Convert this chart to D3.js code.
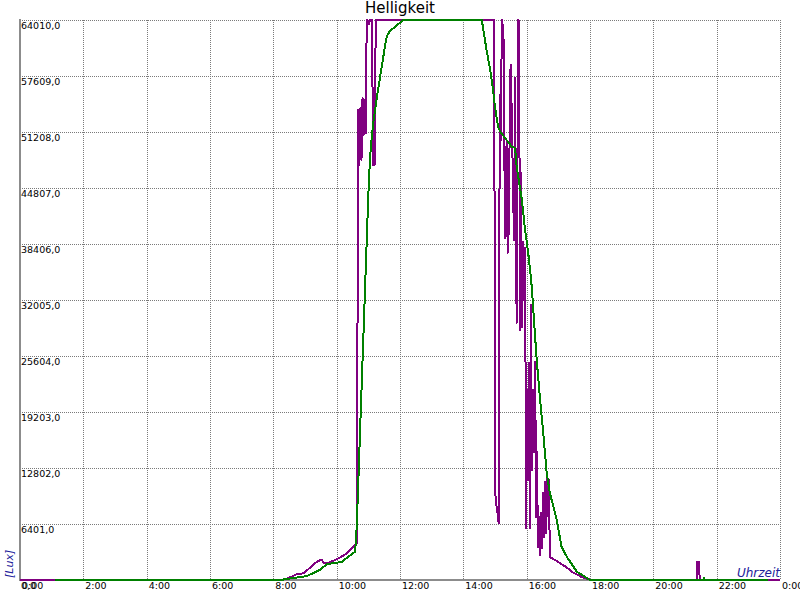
<!DOCTYPE html>
<html>
<head>
<meta charset="utf-8">
<script src="https://cdn.jsdelivr.net/npm/d3@7"></script>
<style>
  html, body { margin: 0; padding: 0; background: #ffffff; }
  svg { display: block; }
  text { font-family: "DejaVu Sans", sans-serif; }
</style>
</head>
<body>
<svg id="chart" width="800" height="600"></svg>
<script>
// ---------------- data ----------------
const chartTitle = "Helligkeit";
const yAxisTitle = "[Lux]";
const xAxisTitle = "Uhrzeit";

const yTickValues = [0, 6401, 12802, 19203, 25604, 32005, 38406, 44807, 51208, 57609, 64010];
const xTickValues = [0, 120, 240, 360, 480, 600, 720, 840, 960, 1080, 1200, 1320, 1440];
const xTickLabels = ["0:00", "2:00", "4:00", "6:00", "8:00", "10:00", "12:00", "14:00", "16:00", "18:00", "20:00", "22:00", "0:00"];

// raw sensor (purple)
const rawTimes = ["0:00","8:18","8:35","8:44","8:57","9:03","9:19","9:25","9:32","9:35","9:44","9:57","10:06","10:19","10:35","10:38",
  "10:41","10:43","10:45","10:47","10:49","10:51","10:53","10:55","10:56","10:58","11:01","11:03","11:07","11:09","11:11","11:12","11:14",
  "14:58","15:01","15:04","15:07","15:09","15:11","15:13","15:16","15:19","15:22","15:24","15:27","15:28","15:30","15:36","15:38","15:41",
  "15:44","15:46","15:47","15:49","15:51","15:53","15:55","15:57","15:59","16:01","16:03","16:04","16:06","16:08","16:10","16:12","16:14",
  "16:16","16:18","16:20","16:21","16:23","16:25","16:27","16:29","16:31","16:33","16:35","16:37","16:39","16:40","16:42","16:44",
  "16:57","17:16","17:28","17:44","18:00","18:04","21:22","21:23","21:26","21:27","21:28","24:00"];
const rawValues = [0,0,377,652,766,1063,1909,2172,2343,1943,1977,2286,2549,3052,4000,4195,
  53721,47435,53950,48006,55093,50864,54864,51092,60350,64010,63551,64010,64010,47435,52578,47435,64010,
  64010,9144,8001,6515,55436,50292,64010,62865,39091,50292,37376,41148,57379,58865,38862,57379,29375,
  64010,63779,28575,46520,28918,38633,32004,37948,5944,21717,11430,24803,5944,31433,12573,21717,14630,
  24917,7201,14630,3772,7201,2858,7658,3658,9944,4915,11201,5372,11659,9373,11430,2629,
  2172,1429,857,343,57,0,0,2092,2092,1143,0,0];

// averaged (green)
const avgTimes = ["1:06","8:13","8:51","9:04","9:28","9:42","9:57","10:10","10:35","10:38","11:00","11:03","11:06","11:09","11:16",
  "11:22","11:28","11:32","11:35","11:41","12:06","14:35","14:38","14:44","14:51","14:57","15:00","15:06","15:10","15:19","15:32",
  "15:38","15:41","15:51","15:57","16:03","16:09","16:12","16:19","16:25","16:32","16:38","16:44","16:57","17:06","17:16","17:35",
  "18:00","21:35","21:36","21:37","23:37"];
const avgValues = [0,0,343,457,1143,1829,1943,2092,3235,6058,44006,48006,50292,52121,55093,
  57379,59665,61151,62179,62751,64010,64010,62865,60579,58293,55664,54064,51778,51241,50521,49526,
  49378,47240,43434,40005,37376,33947,31433,25146,20951,16379,12196,9944,6858,3806,2663,949,
  0,0,229,0,0];

// ---------------- chart ----------------
const W = 800, H = 600;
const margin = { left: 20, right: 20, top: 20, bottom: 20 };
const svg = d3.select("#chart");

const toMin = s => { const p = s.split(":"); return (+p[0]) * 60 + (+p[1]); };

const x = d3.scaleLinear().domain([0, 1440]).range([margin.left, W - margin.right]);
const y = d3.scaleLinear().domain([0, 64010]).range([H - margin.bottom, margin.top]);

svg.append("rect").attr("width", W).attr("height", H).attr("fill", "#ffffff");

const px = v => Math.round(v) + 0.5;

// grid
const grid = svg.append("g").attr("shape-rendering", "crispEdges");
grid.selectAll("line.vg").data(xTickValues.slice(1)).join("line")
  .attr("x1", d => px(x(d))).attr("x2", d => px(x(d)))
  .attr("y1", y(64010)).attr("y2", y(0))
  .attr("stroke", "#7a7a7a").attr("stroke-width", 1).attr("stroke-dasharray", "1,1");
grid.selectAll("line.hg").data(yTickValues.slice(1)).join("line")
  .attr("x1", x(0)).attr("x2", x(1440))
  .attr("y1", d => px(y(d))).attr("y2", d => px(y(d)))
  .attr("stroke", "#7a7a7a").attr("stroke-width", 1).attr("stroke-dasharray", "1,1");

// axes lines
svg.append("line").attr("x1", x(0)).attr("x2", x(0)).attr("y1", y(64010) - 1).attr("y2", y(0) + 1)
  .attr("stroke", "#8c8c8c").attr("stroke-width", 2).attr("shape-rendering", "crispEdges");
svg.append("line").attr("x1", x(0) - 1).attr("x2", x(1440)).attr("y1", y(0)).attr("y2", y(0))
  .attr("stroke", "#8c8c8c").attr("stroke-width", 2).attr("shape-rendering", "crispEdges");

// tick labels
svg.append("g").selectAll("text").data(yTickValues).join("text")
  .attr("x", x(0) + 1).attr("y", d => y(d) + 9)
  .attr("font-size", "9.5px").attr("fill", "#000")
  .text(d => d3.format(".1f")(d).replace(".", ","));

svg.append("g").selectAll("text").data(xTickValues).join("text")
  .attr("x", d => x(d) + 2).attr("y", y(0) + 8.5)
  .attr("font-size", "9.5px").attr("fill", "#000")
  .text((d, i) => xTickLabels[i]);

// lines
const line = d3.line().x(d => x(d.t)).y(d => y(d.v));
const rawData = rawTimes.map((t, i) => ({ t: toMin(t), v: rawValues[i] }));
const avgData = avgTimes.map((t, i) => ({ t: toMin(t), v: avgValues[i] }));

svg.append("path").datum(rawData).attr("d", line)
  .attr("fill", "none").attr("stroke", "#800080").attr("stroke-width", 2)
  .attr("stroke-linejoin", "round").attr("shape-rendering", "crispEdges");
svg.append("path").datum(avgData).attr("d", line)
  .attr("fill", "none").attr("stroke", "#008000").attr("stroke-width", 2)
  .attr("stroke-linejoin", "round").attr("shape-rendering", "crispEdges");

// titles
svg.append("text").attr("x", W / 2).attr("y", 13).attr("text-anchor", "middle")
  .attr("font-size", "15px").attr("fill", "#000").text(chartTitle);

svg.append("text").attr("transform", `translate(13,578) rotate(-90)`)
  .attr("font-size", "11px").attr("font-style", "italic").attr("fill", "#20209a")
  .text(yAxisTitle);

svg.append("text").attr("x", x(1440)).attr("y", 577).attr("text-anchor", "end")
  .attr("font-size", "12px").attr("font-style", "italic").attr("fill", "#20209a")
  .text(xAxisTitle);
</script>
</body>
</html>
